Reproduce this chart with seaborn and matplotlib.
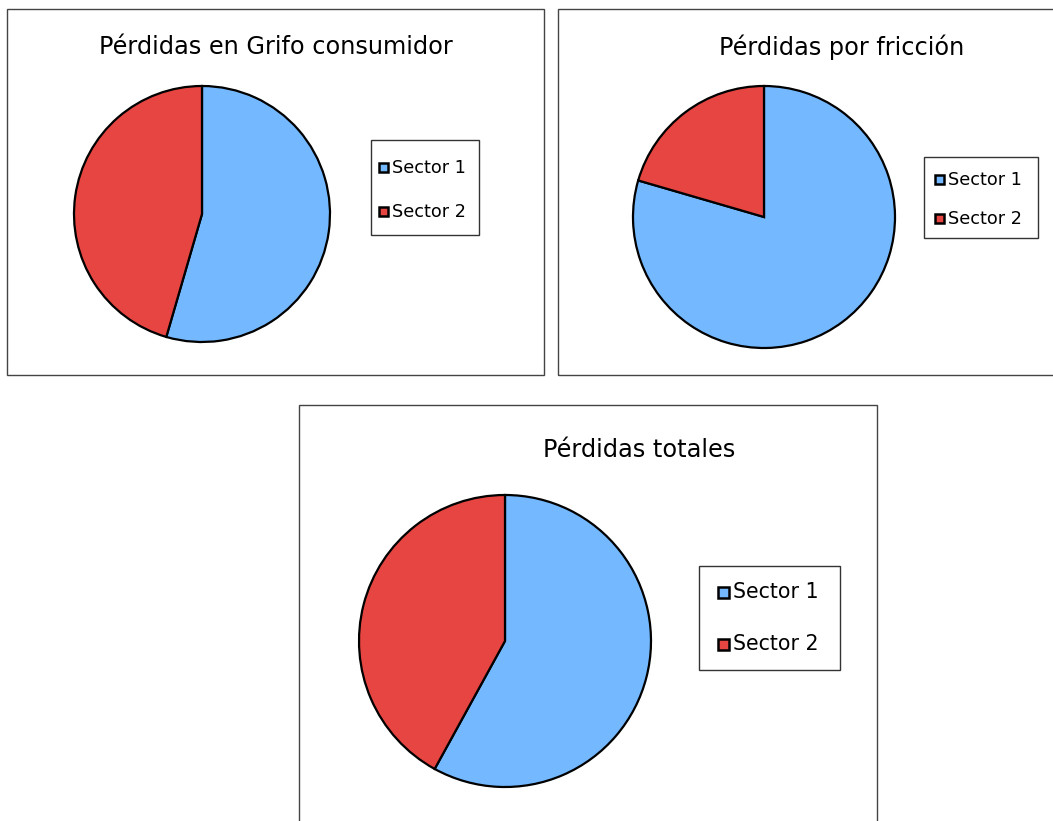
import matplotlib
matplotlib.use("Agg")
import matplotlib.pyplot as plt
import seaborn as sns
from matplotlib.patches import Rectangle

# ---- data ----
categories = ["Sector 1", "Sector 2"]
titles = ["Pérdidas en Grifo consumidor", "Pérdidas por fricción", "Pérdidas totales"]
grifo_values = [54.5, 45.5]
friccion_values = [79.5, 20.5]
totales_values = [58.0, 42.0]
colors = sns.color_palette(["#74B9FF", "#E64541"])

sns.set_theme(style="white")
plt.rcParams["font.family"] = ["DejaVu Sans"]

W, H = 1053, 821
fig = plt.figure(figsize=(W / 100, H / 100), dpi=100)
fig.patch.set_facecolor("white")


def fx(x):
    return x / W


def fy(y):
    return 1 - y / H


def frame(x0, y0, x1, y1, lw=1.0, ec="#333333", fc="none", zorder=1):
    r = Rectangle((fx(x0), fy(y1)), (x1 - x0) / W, (y1 - y0) / H,
                  transform=fig.transFigure, fill=(fc != "none"),
                  facecolor=fc if fc != "none" else None,
                  edgecolor=ec, linewidth=lw, zorder=zorder)
    fig.patches.append(r)


panels = [
    dict(values=grifo_values, title=titles[0], box=(7, 9, 544, 375),
         pie=(202, 214, 128), title_xy=(276, 47), tfs=17.3,
         leg=(371, 140, 479, 235), leg_rows=(168, 212), leg_fs=12.7, sq=9, mx=379),
    dict(values=friccion_values, title=titles[1], box=(558, 9, 1070, 375),
         pie=(764, 217, 131), title_xy=(842, 47), tfs=17.3,
         leg=(924, 157, 1038, 238), leg_rows=(180, 219), leg_fs=12.7, sq=9, mx=935),
    dict(values=totales_values, title=titles[2], box=(299, 405, 877, 840),
         pie=(505, 641, 146), title_xy=(639, 450), tfs=17.3,
         leg=(699, 566, 840, 670), leg_rows=(592, 644), leg_fs=14.8, sq=11, mx=718),
]

for p in panels:
    frame(*p["box"], lw=1.0, ec="#444444")
    cx, cy, r = p["pie"]
    pad = 1.05
    ax = fig.add_axes([fx(cx - r * pad), fy(cy + r * pad), 2 * r * pad / W, 2 * r * pad / H])
    ax.pie(p["values"], colors=colors, startangle=90, counterclock=False,
           wedgeprops=dict(edgecolor="black", linewidth=1.6))
    ax.set_xlim(-pad, pad)
    ax.set_ylim(-pad, pad)
    ax.axis("off")

    tx, ty = p["title_xy"]
    fig.text(fx(tx), fy(ty), p["title"], ha="center", va="center",
             fontsize=p["tfs"], color="black")

    lx0, ly0, lx1, ly1 = p["leg"]
    frame(lx0, ly0, lx1, ly1, lw=1.0, ec="#333333")
    sq = p["sq"]
    mx = p["mx"]
    for lab, col, ry in zip(categories, colors, p["leg_rows"]):
        frame(mx, ry - sq / 2, mx + sq, ry + sq / 2, lw=1.8, ec="black", fc=col, zorder=3)
        fig.text(fx(mx + sq + 4), fy(ry), lab, ha="left", va="center",
                 fontsize=p["leg_fs"], color="black")

fig.savefig("out.png", dpi=100, facecolor="white")
